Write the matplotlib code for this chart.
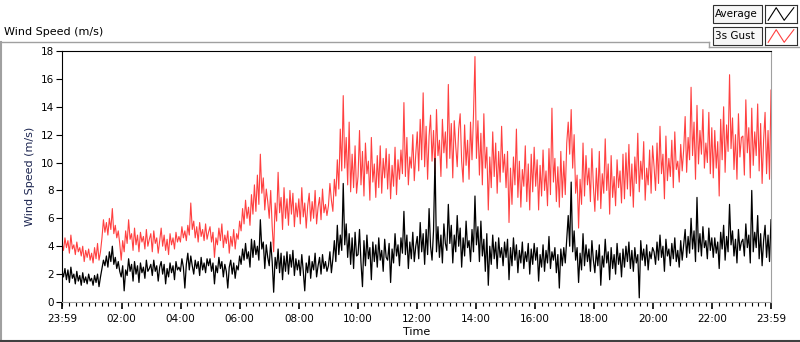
import numpy as np
import matplotlib
matplotlib.use("Agg")
import matplotlib.pyplot as plt
from matplotlib.lines import Line2D
from matplotlib.patches import Rectangle

plt.rcParams['font.family'] = ['DejaVu Sans']

# 3-minute readings, one row per hour
gust = [
    4.2, 3.7, 4.6, 3.9, 4.4, 3.5, 4.8, 3.8, 4.1, 3.4, 4.3, 3.6, 3.9, 3.3, 4.0, 2.9, 3.7, 3.2, 3.8, 3.0,
    3.5, 2.8, 3.9, 3.1, 4.2, 3.0, 3.6, 4.6, 5.9, 5.0, 5.7, 4.8, 6.0, 5.2, 6.7, 4.9, 5.5, 4.6, 5.1, 4.2,
    3.0, 4.4, 3.6, 5.1, 4.2, 5.9, 4.5, 4.9, 3.7, 5.3, 4.1, 4.8, 3.6, 5.0, 4.3, 4.7, 3.8, 5.2, 4.0, 4.5,
    4.9, 3.6, 5.1, 4.2, 4.6, 3.5, 4.4, 5.3, 4.0, 4.8, 3.7, 4.5, 3.4, 4.9, 4.1, 4.6, 3.8, 5.0, 4.3, 4.7,
    4.3, 5.4, 4.6, 5.1, 4.4, 5.5, 4.8, 7.1, 5.2, 5.8, 4.6, 5.4, 4.3, 5.7, 4.7, 5.2, 4.4, 5.6, 4.5, 5.0,
    5.4, 4.3, 5.0, 3.2, 4.6, 4.1, 5.3, 4.4, 5.6, 3.9, 4.8, 4.2, 5.1, 3.5, 4.7, 4.0, 5.2, 3.8, 4.9, 4.5,
    5.8, 5.1, 6.7, 5.6, 7.3, 6.0, 6.8, 5.5, 7.7, 6.3, 8.4, 6.5, 9.1, 7.0, 10.6, 7.8, 8.9, 6.6, 8.1, 7.2,
    6.0, 8.0, 5.4, 3.6, 7.1, 5.8, 9.3, 6.4, 7.5, 5.2, 8.2, 6.0, 7.4, 5.5, 8.0, 6.3, 7.8, 5.4, 7.1, 6.1,
    7.4, 5.6, 8.2, 6.1, 7.1, 5.3, 6.9, 7.8, 5.8, 7.2, 6.0, 8.0, 5.6, 6.8, 7.5, 5.9, 8.1, 6.4, 7.0, 6.2,
    6.9, 8.5, 7.3, 6.5, 8.8, 7.6, 10.2, 8.1, 12.4, 9.4, 14.8, 9.6, 11.8, 8.4, 12.9, 7.9, 10.6, 8.2, 11.2, 7.8,
    9.0, 12.3, 8.4, 10.8, 7.6, 11.4, 9.2, 10.1, 7.3, 11.8, 8.6, 9.9, 7.5, 10.5, 8.2, 11.2, 7.8, 10.3, 8.9, 11.0,
    8.1, 10.6, 7.4, 9.8, 8.3, 11.1, 7.7, 10.2, 8.8, 10.9, 9.2, 14.3, 9.0, 11.8, 8.4, 10.4, 9.6, 12.0, 8.7, 10.6,
    12.2, 9.4, 13.1, 10.2, 15.0, 9.7, 12.6, 8.8, 11.9, 13.4, 10.1, 12.3, 9.2, 13.8, 10.5, 11.6, 9.0, 13.1, 10.7, 12.2,
    9.6, 15.6, 10.3, 12.8, 8.9, 13.0, 11.2, 9.7, 12.4, 13.5, 10.1, 8.6, 12.7, 9.8, 11.6, 8.8, 12.9, 10.2, 13.4, 17.6,
    10.3, 13.0, 9.1, 12.1, 8.4, 13.5, 9.6, 11.1, 6.6, 10.4, 8.2, 12.2, 9.0, 11.4, 7.8, 10.8, 8.6, 12.6, 9.3, 10.6,
    8.2, 10.8, 5.7, 9.6, 7.0, 10.4, 8.4, 12.4, 7.5, 10.1, 6.8, 9.5, 8.3, 11.2, 7.2, 9.9, 6.6, 10.6, 7.9, 11.1,
    8.3, 10.2, 6.6, 9.8, 7.6, 10.9, 8.0, 9.4, 6.9, 11.0, 7.7, 13.9, 8.6, 10.3, 7.2, 9.7, 6.8, 10.8, 7.5, 10.1,
    7.7, 11.4, 12.9, 10.6, 13.8, 9.6, 12.0, 7.8, 9.1, 5.3, 8.8, 7.0, 11.4, 7.6, 10.5, 8.4, 9.6, 7.2, 11.0, 8.3,
    6.5, 9.6, 7.3, 10.8, 6.7, 9.2, 7.8, 11.7, 8.0, 9.9, 6.3, 10.5, 7.5, 9.0, 6.9, 10.2, 8.2, 9.4, 7.1, 10.6,
    7.4, 10.7, 8.1, 11.3, 7.6, 9.9, 6.8, 10.4, 8.5, 12.1, 7.9, 10.1, 8.8, 11.5, 7.3, 9.6, 8.4, 10.9, 7.8, 11.2,
    9.7, 8.0, 11.4, 8.5, 12.6, 9.2, 10.6, 7.4, 11.9, 8.7, 10.3, 9.0, 11.6, 8.2, 12.2, 9.5, 10.1, 8.6, 11.3, 9.4,
    10.9, 13.3, 9.3, 11.8, 10.2, 15.4, 10.5, 12.9, 8.8, 14.1, 9.9, 12.3, 10.6, 13.8, 9.6, 11.4, 10.0, 13.6, 9.2, 12.5,
    8.9, 12.3, 9.6, 11.5, 7.6, 13.1, 10.2, 14.0, 9.3, 12.7, 10.8, 16.3, 11.0, 13.2, 9.5, 12.0, 8.8, 13.5, 10.4, 11.8,
    11.9, 9.1, 14.5, 10.7, 12.5, 8.9, 13.9, 9.8, 12.2, 10.5, 14.2, 9.4, 12.8, 8.5, 11.6, 13.6, 9.2, 12.3, 8.8, 15.2,
]
average = [
    2.2, 1.8, 2.4, 1.6, 2.3, 1.4, 2.5, 1.7, 2.0, 1.3, 2.2, 1.5, 1.9, 1.2, 2.1, 1.4, 1.8, 1.3, 2.0, 1.5,
    1.7, 1.2, 1.9, 1.4, 2.0, 1.1, 1.8, 2.4, 3.0, 2.6, 3.3, 2.5, 3.6, 2.9, 4.0, 2.7, 3.2, 2.4, 2.9, 2.2,
    1.8, 2.6, 0.8, 2.3, 1.9, 3.1, 2.2, 2.7, 1.5, 2.9, 2.0, 2.6, 1.4, 2.8, 2.1, 2.5, 1.7, 3.0, 2.2, 2.4,
    2.7, 1.9, 3.0, 2.2, 2.6, 1.5, 2.5, 2.9, 2.0, 2.7, 1.3, 2.4, 1.8, 2.8, 2.1, 2.6, 1.6, 2.9, 2.3, 2.5,
    2.2, 3.1, 2.5, 1.0, 2.7, 3.5, 2.3, 3.3, 2.6, 2.0, 3.0, 2.4, 2.9, 1.9, 3.2, 2.3, 2.8, 2.1, 3.1, 2.6,
    3.1, 2.2, 2.8, 1.3, 2.6, 2.1, 3.2, 2.4, 2.9, 1.8, 2.7, 2.2, 1.0, 2.5, 3.0, 2.0, 2.8, 1.7, 2.6, 2.3,
    3.3, 2.7, 3.8, 3.0, 4.2, 3.1, 3.6, 2.5, 4.5, 3.2, 4.4, 3.4, 4.0, 3.0, 5.9, 3.8, 4.3, 2.4, 4.1, 3.2,
    2.6, 4.3, 2.9, 0.7, 3.2, 2.4, 3.8, 2.1, 3.5, 1.6, 3.3, 2.2, 3.6, 2.0, 3.4, 2.5, 3.7, 1.9, 3.1, 2.3,
    3.0, 1.9, 3.4, 2.2, 0.8, 2.8, 2.1, 3.3, 1.7, 2.9, 2.3, 3.5, 1.8, 2.6, 3.2, 2.0, 3.4, 2.4, 2.9, 2.2,
    2.6, 3.6, 2.1, 3.1, 4.4, 2.9, 5.5, 3.4, 4.8, 3.7, 8.5, 4.1, 5.6, 3.2, 4.9, 2.7, 4.6, 2.4, 5.0, 3.3,
    3.4, 5.2, 2.8, 1.1, 4.4, 2.6, 4.8, 3.1, 3.9, 1.6, 4.3, 2.9, 4.1, 2.5, 4.6, 3.0, 3.7, 2.2, 4.5, 3.2,
    3.0, 4.2, 1.4, 3.8, 2.8, 4.9, 3.3, 4.1, 2.6, 4.6, 3.5, 6.5, 3.4, 4.8, 2.4, 4.3, 3.1, 5.0, 2.9, 4.0,
    4.7, 3.1, 5.7, 3.6, 4.9, 2.7, 5.2, 3.4, 6.7, 4.0, 3.0, 5.1, 10.3, 3.6, 5.4, 3.2, 4.8, 2.8, 5.6, 4.2,
    3.7, 7.0, 4.2, 5.5, 2.8, 4.8, 3.6, 6.2, 4.0, 5.3, 2.5, 4.6, 3.3, 5.8, 3.9, 4.4, 2.9, 5.2, 3.6, 7.6,
    4.1, 5.4, 2.9, 5.8, 3.3, 4.5, 2.2, 4.9, 1.2, 4.0, 2.7, 4.8, 3.1, 4.3, 2.4, 4.6, 3.2, 3.9, 2.6, 4.3,
    3.2, 4.5, 1.6, 3.9, 2.6, 4.6, 3.0, 4.1, 2.1, 3.7, 2.8, 4.3, 2.4, 3.6, 2.9, 4.2, 2.0, 3.8, 2.7, 4.2,
    3.0, 3.9, 1.5, 3.4, 2.5, 4.1, 2.2, 3.7, 2.8, 4.7, 2.4, 3.6, 3.0, 3.9, 2.1, 3.4, 1.0, 3.8, 2.6, 3.9,
    2.8, 4.5, 6.2, 4.0, 8.6, 3.6, 5.1, 3.0, 3.9, 1.4, 3.5, 2.3, 4.9, 2.6, 4.1, 2.9, 3.8, 2.2, 4.4, 3.0,
    2.1, 3.7, 2.6, 4.1, 1.2, 3.3, 2.5, 4.5, 2.8, 3.6, 1.6, 3.9, 2.4, 3.4, 2.0, 4.2, 2.7, 3.5, 1.8, 3.8,
    2.5, 4.0, 2.9, 4.3, 2.4, 3.7, 2.2, 3.9, 2.8, 3.4, 0.3, 4.4, 3.0, 3.8, 2.6, 4.1, 2.3, 3.6, 3.1, 3.9,
    3.6, 2.7, 4.3, 3.0, 4.8, 3.2, 4.0, 2.2, 4.5, 3.3, 3.8, 2.6, 4.2, 3.1, 4.6, 2.9, 3.7, 2.5, 4.4, 3.0,
    4.1, 5.2, 3.2, 4.7, 3.5, 6.0, 3.8, 5.1, 2.9, 7.5, 3.6, 4.9, 3.3, 5.4, 3.9, 4.4, 3.1, 5.3, 3.7, 4.6,
    3.2, 4.6, 3.5, 4.3, 2.4, 5.0, 3.8, 5.5, 3.0, 4.7, 3.6, 7.0, 4.1, 5.1, 3.3, 4.5, 2.8, 5.2, 3.7, 4.3,
    4.5, 3.3, 5.6, 3.9, 4.8, 2.8, 8.0, 3.6, 5.0, 3.9, 6.2, 3.1, 4.9, 2.6, 4.4, 5.5, 3.2, 4.8, 2.9, 5.9,
]
tick_labels = ["23:59", "02:00", "04:00", "06:00", "08:00", "10:00", "12:00",
               "14:00", "16:00", "18:00", "20:00", "22:00", "23:59"]

# time axis in hours, 23:59 of previous day to 23:59
t0 = -1 / 60
t1 = 24 - 1 / 60
hours = np.linspace(t0, t1, len(gust))

fig = plt.figure(figsize=(8, 3.42), dpi=100)
ax = fig.add_axes([62 / 800, 40 / 342, 709 / 800, 251 / 342])

ax.plot(hours, gust, color="#ff4040", lw=0.8)
ax.plot(hours, average, color="black", lw=0.9)

ax.set_xlim(t0, t1)
ax.set_ylim(0, 18)
ax.set_yticks(np.arange(0, 19, 2))
ax.set_xticks([t0] + list(range(2, 24, 2)) + [t1])
ax.set_xticklabels(tick_labels)
ax.set_xticks([k * 2 / 9 for k in range(108)], minor=True)
ax.tick_params(axis="both", labelsize=7.5, direction="out", color="black")
ax.tick_params(axis="x", which="major", length=5, width=1.2)
ax.tick_params(axis="x", which="minor", length=3, width=0.8)
ax.tick_params(axis="y", length=4, width=0.8, pad=2)

for side in ["top", "left"]:
    ax.spines[side].set_color("black")
for side in ["right", "bottom"]:
    ax.spines[side].set_color("#a0a0a0")

ax.set_xlabel("Time", fontsize=8, labelpad=2)
ax.set_ylabel("Wind Speed (m/s)", fontsize=8, color="#1c2550", labelpad=4)

# chart caption and outer frame
fig.text(4 / 800, 1 - 32 / 342, "Wind Speed (m/s)", fontsize=8, va="center")
grey = "#a0a0a0"
fig.add_artist(Line2D([0, 709 / 800], [1 - 42 / 342] * 2, color=grey, lw=1))
fig.add_artist(Line2D([709 / 800] * 2, [1 - 42 / 342, 1 - 47 / 342], color=grey, lw=1))
fig.add_artist(Line2D([709 / 800, 1], [1 - 47 / 342] * 2, color=grey, lw=1))
fig.add_artist(Line2D([1 / 800] * 2, [0, 1 - 42 / 342], color=grey, lw=1.5))
fig.add_artist(Line2D([0, 1], [1 / 342] * 2, color="#404040", lw=1.5))

# legend panel
for row, (name, col) in enumerate([("Average", "black"), ("3s Gust", "#ff4040")]):
    top = 5 + row * 22
    fig.add_artist(Rectangle((713 / 800, 1 - (top + 18) / 342), 49 / 800, 18 / 342,
                             facecolor="#f6f6f6", edgecolor="#303030", lw=0.8))
    fig.text(715 / 800, 1 - (top + 9) / 342, name, fontsize=7.5, va="center")
    icon = fig.add_axes([765 / 800, 1 - (top + 18) / 342, 32 / 800, 18 / 342])
    icon.plot([0.1, 0.35, 0.6, 0.9], [0.15, 0.85, 0.15, 0.85], color=col, lw=0.8)
    icon.set_xlim(0, 1)
    icon.set_ylim(0, 1)
    icon.set_xticks([])
    icon.set_yticks([])
    for s in icon.spines.values():
        s.set_color("#303030")
        s.set_linewidth(0.8)

fig.savefig("out.png", dpi=100)
